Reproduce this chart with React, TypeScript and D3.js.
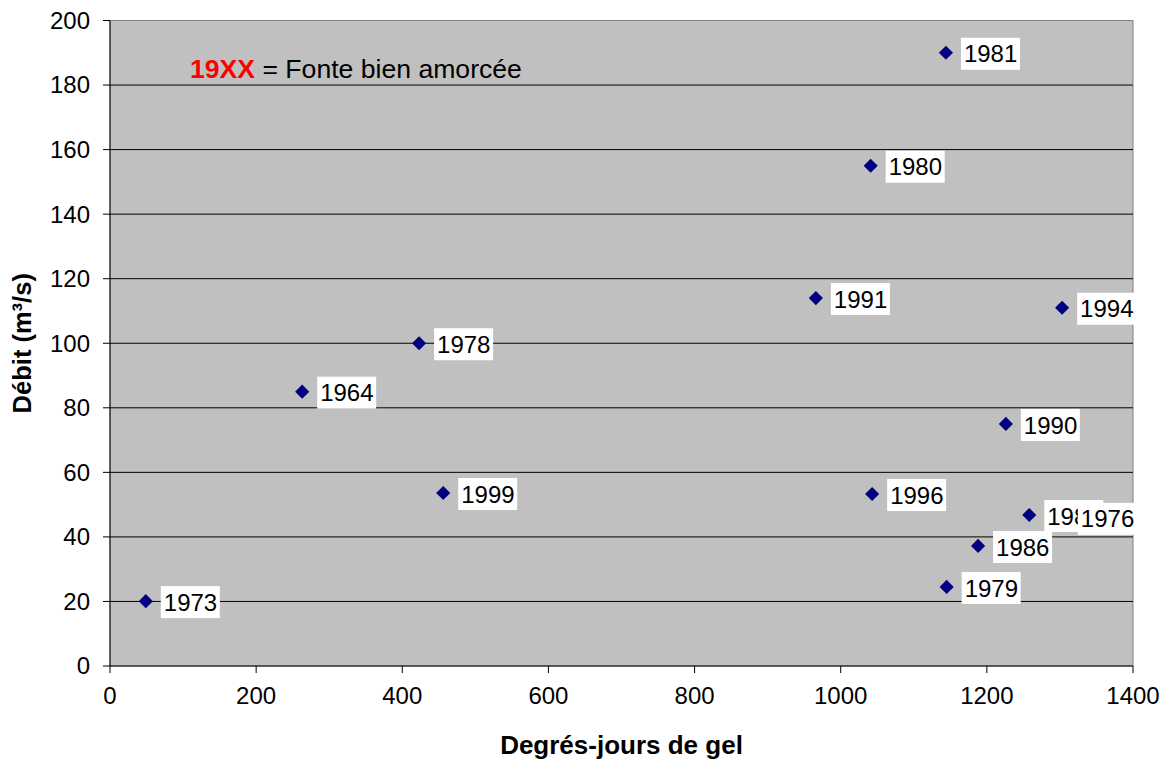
import React from "react";
import * as d3 from "d3";

const years = ["1981", "1980", "1991", "1994", "1978", "1964", "1990", "1999", "1996", "1989", "1976", "1986", "1979", "1973"];
const degreeDays = [1144, 1041, 966, 1303, 423, 263, 1226, 456, 1043, 1258, 1304, 1188, 1145, 49];
const flows = [190, 155, 114, 111, 100, 85, 75, 53.6, 53.3, 46.8, 45.9, 37.2, 24.5, 20.1];
const xTicks = [0, 200, 400, 600, 800, 1000, 1200, 1400];
const yTicks = [0, 20, 40, 60, 80, 100, 120, 140, 160, 180, 200];

const width = 1166;
const height = 761;
const margin = { top: 20.5, right: 33, bottom: 95, left: 110 };

const App = () => {
  const x = d3.scaleLinear([0, 1400], [margin.left, width - margin.right]);
  const y = d3.scaleLinear([0, 200], [height - margin.bottom, margin.top]);
  const marker = d3.symbol(d3.symbolSquare, 100)();
  const font = "Liberation Sans, Arial, sans-serif";

  return (
    <svg width={width} height={height} style={{ position: "absolute", left: 0, top: 0 }} fontFamily={font}>
      <rect x={x(0)} y={y(200)} width={x(1400) - x(0)} height={y(0) - y(200)} fill="#c0c0c0" stroke="#808080" />
      {yTicks.map((t) => (
        <g key={t}>
          {t > 0 && t < 200 && <line x1={x(0)} x2={x(1400)} y1={y(t)} y2={y(t)} stroke="#000" />}
          <line x1={x(0) - 7} x2={x(0)} y1={y(t)} y2={y(t)} stroke="#000" />
          <text x={x(0) - 20} y={y(t)} dy="0.35em" textAnchor="end" fontSize={24}>{t}</text>
        </g>
      ))}
      {xTicks.map((t) => (
        <g key={t}>
          <line x1={x(t)} x2={x(t)} y1={y(0)} y2={y(0) + 7} stroke="#000" />
          <text x={x(t)} y={y(0) + 30} dy="0.35em" textAnchor="middle" fontSize={24}>{t}</text>
        </g>
      ))}
      <line x1={x(0)} x2={x(0)} y1={y(0)} y2={y(200)} stroke="#000" />
      <line x1={x(0)} x2={x(1400)} y1={y(0)} y2={y(0)} stroke="#000" />
      {years.map((yr, i) => (
        <path key={yr} d={marker} transform={`translate(${x(degreeDays[i])},${y(flows[i])}) rotate(45)`} fill="#000080" />
      ))}
      {years.map((yr, i) => {
        const px = x(degreeDays[i]) + 15;
        const py = y(flows[i]) + 1;
        return (
          <g key={yr}>
            <rect x={px} y={py - 16} width={59} height={32} fill="#fff" />
            <text x={px + 3} y={py} dy="0.36em" fontSize={24}>{yr}</text>
          </g>
        );
      })}
      <text x={190} y={69} dy="0.35em" fontSize={26.6}>
        <tspan fill="#ff0000" fontWeight="bold">19XX</tspan>
        <tspan> = Fonte bien amorcée</tspan>
      </text>
      <text transform={`translate(22,${(y(0) + y(200)) / 2}) rotate(-90)`} textAnchor="middle" dy="0.35em" fontSize={25.5} fontWeight="bold">
        Débit (m³/s)
      </text>
      <text x={(x(0) + x(1400)) / 2} y={745} dy="0.35em" textAnchor="middle" fontSize={26} fontWeight="bold">
        Degrés-jours de gel
      </text>
    </svg>
  );
};

export default App;
